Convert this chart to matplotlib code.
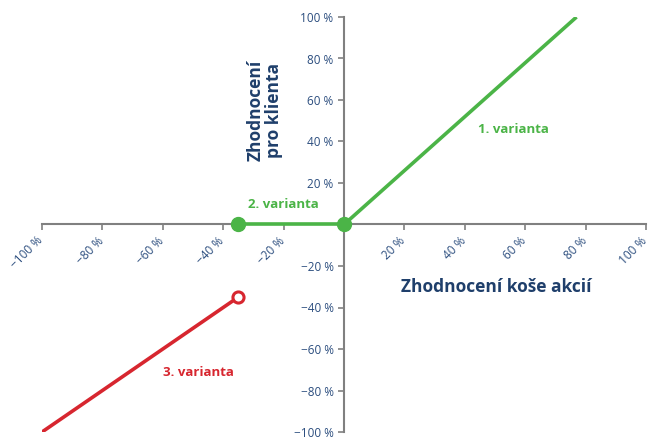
import matplotlib
matplotlib.use("Agg")
import matplotlib.pyplot as plt
from matplotlib.transforms import ScaledTranslation

plt.rcParams['font.family'] = ['Open Sans', 'DejaVu Sans']

# Data
ticks = [-100, -80, -60, -40, -20, 20, 40, 60, 80, 100]
v1_x = [0, 77]
v1_y = [0, 100]
v2_x = [-35, 0]
v2_y = [0, 0]
v3_x = [-100, -35]
v3_y = [-100, -35]

navy = '#1f3f6b'
tick_col = '#2b4d7e'
green = '#4bb447'
red = '#d7262f'
gray = '#808080'

fig = plt.figure(figsize=(6.51, 4.38), dpi=100)
ax = fig.add_axes([42/651, 1-432/438, (646-42)/651, (432-17)/438])
ax.set_xlim(-100, 100)
ax.set_ylim(-100, 100)

for s in ['top', 'right']:
    ax.spines[s].set_visible(False)
ax.spines['left'].set_position(('data', 0))
ax.spines['bottom'].set_position(('data', 0))
for s in ['left', 'bottom']:
    ax.spines[s].set_color(gray)
    ax.spines[s].set_linewidth(1.5)
    ax.spines[s].set_zorder(1)

fmt = lambda t: f"\u2212{abs(t)} %" if t < 0 else f"{t} %"
ax.set_xticks(ticks)
ax.set_yticks(ticks)
ax.set_xticklabels([fmt(t) for t in ticks],
                   rotation=45, ha='right', va='top', rotation_mode='anchor')
ax.set_yticklabels([fmt(t) for t in ticks])
ax.tick_params(axis='both', colors=gray, labelcolor=tick_col, labelsize=8.5,
               length=4, width=1.2, direction='out')
ax.tick_params(axis='x', pad=3)
off = ScaledTranslation(-4/72, 0, fig.dpi_scale_trans)
for lab in ax.get_xticklabels():
    lab.set_transform(lab.get_transform() + off)

ax.plot(v1_x, v1_y, color=green, lw=2.6, solid_capstyle='butt', zorder=3)
ax.plot(v2_x, v2_y, color=green, lw=2.6, zorder=3, marker='o', markersize=10,
        markerfacecolor=green, markeredgecolor=green)
ax.plot(v3_x, v3_y, color=red, lw=2.6, zorder=3, solid_capstyle='butt')
ax.plot([v3_x[-1]], [v3_y[-1]], marker='o', markersize=8, markerfacecolor='white',
        markeredgecolor=red, markeredgewidth=2.2, zorder=4, linestyle='none')

fig.text(265/651, 1-110/438, "Zhodnocení\npro klienta", rotation=90, ha='center',
         va='center', color=navy, fontsize=12.5, fontweight='bold', linespacing=1.0)
fig.text(496/651, 1-287/438, "Zhodnocení koše akcií", ha='center', va='center',
         color=navy, fontsize=12.5, fontweight='bold')
fig.text(513/651, 1-130/438, "1. varianta", ha='center', va='center',
         color=green, fontsize=9.5, fontweight='bold')
fig.text(283/651, 1-204/438, "2. varianta", ha='center', va='center',
         color=green, fontsize=9.5, fontweight='bold')
fig.text(198/651, 1-372/438, "3. varianta", ha='center', va='center',
         color=red, fontsize=9.5, fontweight='bold')

fig.savefig('out.png', dpi=100)
